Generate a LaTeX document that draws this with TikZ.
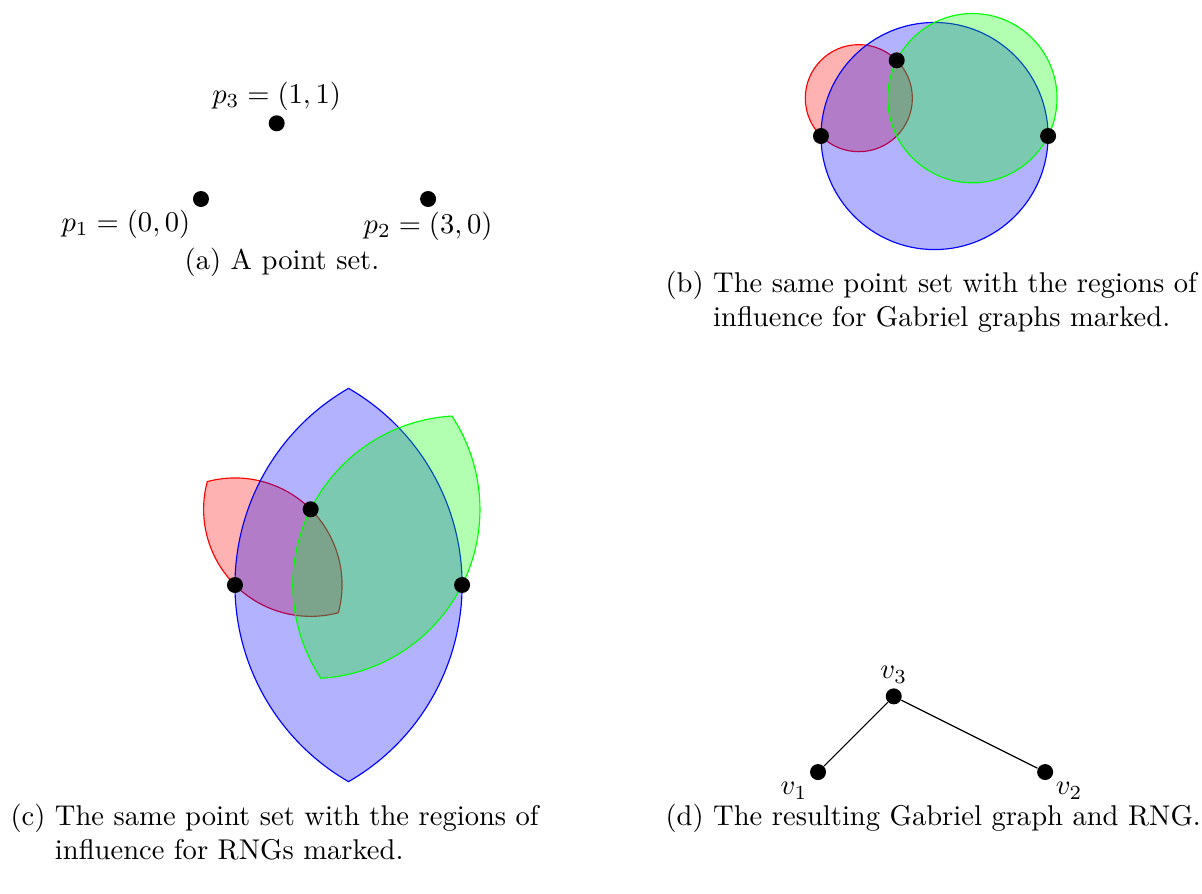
\documentclass[tikz,border=0pt]{standalone}
\usetikzlibrary{math}
\tikzset{
  dot/.style={circle, fill=black, inner sep=0pt, minimum size=5.6pt},
  every label/.style={inner sep=1.4pt},
  region/.style={draw=#1, fill=#1, fill opacity=0.3},
  subcap/.style={anchor=base west, inner sep=0pt, align=left}
}
\begin{document}
\begin{tikzpicture}[x=26.5pt, y=26.5pt]
\tikzmath{
\dr = sqrt(2); \db = 3; \dg = sqrt(5);
}
\useasboundingbox (0,0) rectangle (15.878,11.797);

% (a) the points
\begin{scope}[shift={(2.655,9.168)}]
\node[dot, label={below left:$p_1 = (0,0)$}] (a1) at (0,0) {};
\node[dot, label={below:$p_2 = (3,0)$}] (a2) at (3,0) {};
\node[dot, label={above:$p_3 = (1,1)$}] (a3) at (1,1) {};
\end{scope}
\node[subcap, anchor=base] (capa) at (3.725,8.243) {(a) A point set.};

% (b) Gabriel regions
\begin{scope}[shift={(10.845,10.0)}]
\filldraw[region=red] (0.5,0.5) circle (\dr/2);
\filldraw[region=blue] (1.5,0) circle (\db/2);
\filldraw[region=green] (2,0.5) circle (\dg/2);
\node[dot] (b1) at (0,0) {};
\node[dot] (b2) at (3,0) {};
\node[dot] (b3) at (1,1) {};
\end{scope}
\node[subcap] (capb) at (8.785,7.939) {\begin{tabular}[t]{@{}l@{ }l@{}}(b) & The same point set with the regions of\\ & influence for Gabriel graphs marked.\end{tabular}};

% (c) RNG lunes
\begin{scope}[shift={(3.104,4.069)}]
\filldraw[region=red] (0,0) ++(105:\dr) arc[start angle=165, end angle=285, radius=\dr] arc[start angle=-15, end angle=105, radius=\dr] -- cycle;
\filldraw[region=blue] (0,0) ++(60:\db) arc[start angle=120, end angle=240, radius=\db] arc[start angle=-60, end angle=60, radius=\db] -- cycle;
\filldraw[region=green] (1,1) ++(33.435:\dg) arc[start angle=93.435, end angle=213.435, radius=\dg] arc[start angle=-86.565, end angle=33.435, radius=\dg] -- cycle;
\node[dot] (c1) at (0,0) {};
\node[dot] (c2) at (3,0) {};
\node[dot] (c3) at (1,1) {};
\end{scope}
\node[subcap] (capc) at (0.132,0.898) {\begin{tabular}[t]{@{}l@{ }l@{}}(c) & The same point set with the regions of\\ & influence for RNGs marked.\end{tabular}};

% (d) resulting graph
\begin{scope}[shift={(10.806,1.598)}]
\node[dot, label={below left:$v_1$}] (v1) at (0,0) {};
\node[dot, label={below right:$v_2$}] (v2) at (3,0) {};
\node[dot, label={above:$v_3$}] (v3) at (1,1) {};
\draw (v1) -- (v3) -- (v2);
\end{scope}
\node[subcap] (capd) at (8.785,0.898) {(d) The resulting Gabriel graph and RNG.};

\end{tikzpicture}
\end{document}
